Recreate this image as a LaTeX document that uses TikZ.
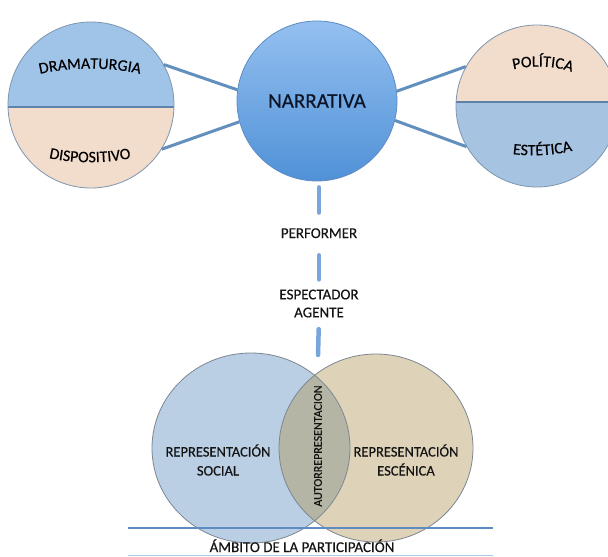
\documentclass[tikz,border=0pt]{standalone}
\usepackage{fontspec}
\setmainfont{Carlito}[FakeBold=0.35]
\usetikzlibrary{decorations.text,shapes.geometric}
\definecolor{blueA}{RGB}{159,196,232}
\definecolor{peach}{RGB}{242,220,203}
\definecolor{blueB}{RGB}{166,196,226}
\definecolor{outC}{RGB}{125,150,175}
\definecolor{divC}{RGB}{95,130,170}
\definecolor{connC}{RGB}{98,143,190}
\definecolor{barC}{RGB}{120,165,220}
\definecolor{narTop}{RGB}{148,192,240}
\definecolor{narBot}{RGB}{80,145,215}
\definecolor{narOut}{RGB}{95,140,195}
\definecolor{narTxt}{RGB}{12,20,40}
\definecolor{vennL}{RGB}{186,206,228}
\definecolor{vennR}{RGB}{222,210,185}
\definecolor{vennO}{RGB}{180,181,165}
\definecolor{vout}{RGB}{125,135,145}
\definecolor{lineC}{RGB}{95,140,195}
\definecolor{lightC}{RGB}{170,200,232}
\definecolor{txtC}{RGB}{20,20,20}
\begin{document}
\begin{tikzpicture}[x=1pt,y=-1pt,
  conn/.style={draw=connC, line width=3pt},
  bar/.style={draw=barC, line width=4.5pt, line cap=round},
  lbl/.style={inner sep=0pt, text=txtC, font=\fontsize{14.5}{19}\selectfont, align=center},
  outl/.style={draw=outC, line width=0.8pt},
  curved/.style={decorate, decoration={text along path, text align=center, text={|\fontsize{16}{16}\selectfont|#1}}}]
\useasboundingbox (0,0) rectangle (608,557);
\begin{scope}
\clip (0,0) rectangle (608,557);
% left split circle
\begin{scope}
\clip (91,105) circle (83pt);
\fill[blueA] (0,0) rectangle (180,107);
\fill[peach] (0,107) rectangle (180,200);
\end{scope}
\draw[divC, line width=1.5pt] (8,107) -- (174,107);
\node[circle, minimum size=166pt, inner sep=0pt, outl] (L) at (91,105) {};
\path[curved={DRAMATURGIA}] (36,75) .. controls (66,66.5) and (114,66.5) .. (144,75);
\path[curved={DISPOSITIVO}] (45,157) .. controls (70,164) and (110,164) .. (135,157);
% right split circle
\begin{scope}
\clip (537,106) circle (81pt);
\fill[peach] (450,0) rectangle (620,102);
\fill[blueB] (450,102) rectangle (620,200);
\end{scope}
\draw[divC, line width=1.5pt] (456,102) -- (620,102);
\node[circle, minimum size=162pt, inner sep=0pt, outl] (R) at (537,106) {};
\path[curved={POLÍTICA}] (511,70) .. controls (530,65) and (555,65) .. (574,73);
\path[curved={ESTÉTICA}] (507,153) .. controls (525,157) and (558,156) .. (578,149);
% narrativa
\node[circle, minimum size=160pt, inner sep=0pt, draw=narOut, line width=0.8pt,
  top color=narTop, bottom color=narBot, text=narTxt,
  font=\fontsize{21}{21}\selectfont] (N) at (317,101) {NARRATIVA};
% connectors
\draw[conn] (L.29) -- (N.172);
\draw[conn] (L.-32) -- (N.195);
\draw[conn] (N.7) -- (R.151);
\draw[conn] (N.-14.5) -- (R.210);
% vertical chain
\node[anchor=base, inner sep=0pt, text=txtC, font=\fontsize{15}{15}\selectfont] (perf) at (319,238) {PERFORMER};
\node[lbl, font=\fontsize{15}{18}\selectfont] (esp) at (319,303.5) {ESPECTADOR\\AGENTE};
\coordinate (vtop) at (318,355);
\draw[bar, shorten <=6pt, shorten >=15.5pt] (N.south -| perf) -- (perf.north);
\draw[bar, shorten <=17pt, shorten >=10pt] (perf.south) -- (esp.north);
\draw[bar, shorten <=11.5pt] (esp.south) -- (vtop);
% venn
\fill[vennL] (251,448) ellipse [x radius=99pt, y radius=95pt];
\fill[vennR] (376,448) ellipse [x radius=97pt, y radius=94pt];
\begin{scope}
\clip (251,448) ellipse [x radius=99pt, y radius=95pt];
\fill[vennO] (376,448) ellipse [x radius=97pt, y radius=94pt];
\end{scope}
\node[ellipse, draw=vout, line width=0.8pt, minimum width=198pt, minimum height=190pt, inner sep=0pt] (VL) at (251,448) {};
\node[ellipse, draw=vout, line width=0.8pt, minimum width=194pt, minimum height=188pt, inner sep=0pt] (VR) at (376,448) {};
\node[lbl] (rs) at (218,460) {REPRESENTACIÓN\\SOCIAL};
\node[lbl] (re) at (406,460) {REPRESENTACIÓN\\ESCÉNICA};
\node[rotate=90, inner sep=0pt, text=txtC, font=\fontsize{12}{12}\selectfont] (auto) at (318,446) {AUTORREPRESENTACION};
% base lines
\coordinate (la) at (128,528);
\coordinate (lb) at (493,528);
\draw[lineC, line width=2pt] (la) -- (lb);
\coordinate (lc) at (128,555.5);
\coordinate (ld) at (493,555.5);
\draw[lightC, line width=1.5pt] (lc) -- (ld);
\node[anchor=base, inner sep=0pt, text=txtC, font=\fontsize{15}{15}\selectfont] (amb) at (302,552) {ÁMBITO DE LA PARTICIPACIÓN};
\end{scope}
\end{tikzpicture}
\end{document}
